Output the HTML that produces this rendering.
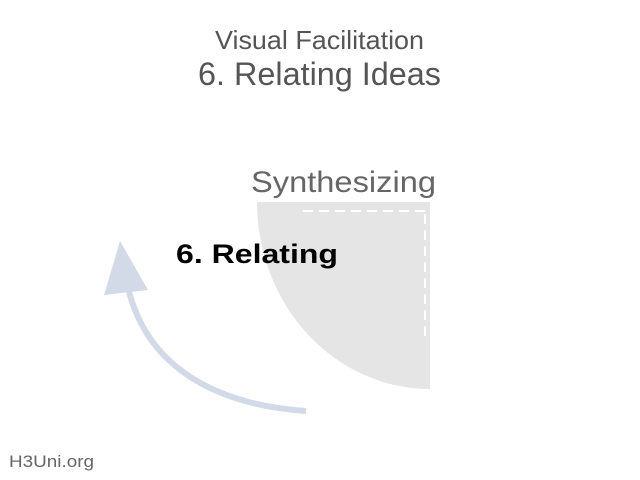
<!DOCTYPE html>
<html><head><style>
body{margin:0;width:640px;height:480px;background:#fff;overflow:hidden;position:relative;font-family:"Liberation Sans",sans-serif}
</style></head><body>
<svg width="640" height="480" style="position:absolute;left:0;top:0" font-family="Liberation Sans, sans-serif">
<text x="215" y="49" font-size="26" fill="#555" textLength="209" lengthAdjust="spacingAndGlyphs">Visual Facilitation</text>
<text x="198" y="85" font-size="32" fill="#555" textLength="243" lengthAdjust="spacingAndGlyphs">6. Relating Ideas</text>
<path d="M257 202 L430 202 L430 389 A173 187 0 0 1 257 202 Z" fill="#e5e5e5"/>
<line x1="303" y1="211" x2="430" y2="211" stroke="#fff" stroke-width="2" stroke-dasharray="10,6"/>
<line x1="425" y1="214" x2="425" y2="340" stroke="#fff" stroke-width="2" stroke-dasharray="10,6"/>
<path d="M306 411 C220 405 145 370 127 283" fill="none" stroke="#d3dae7" stroke-width="6"/>
<polygon points="120,241 104,295 148,290" fill="#d3dae7"/>
<text x="251" y="192" font-size="30" fill="#666" textLength="185" lengthAdjust="spacingAndGlyphs">Synthesizing</text>
<text x="176" y="263" font-size="27" font-weight="bold" fill="#000" textLength="162" lengthAdjust="spacingAndGlyphs">6. Relating</text>
<text x="9" y="467" font-size="17" fill="#666" textLength="85" lengthAdjust="spacingAndGlyphs">H3Uni.org</text>
</svg>
</body></html>
